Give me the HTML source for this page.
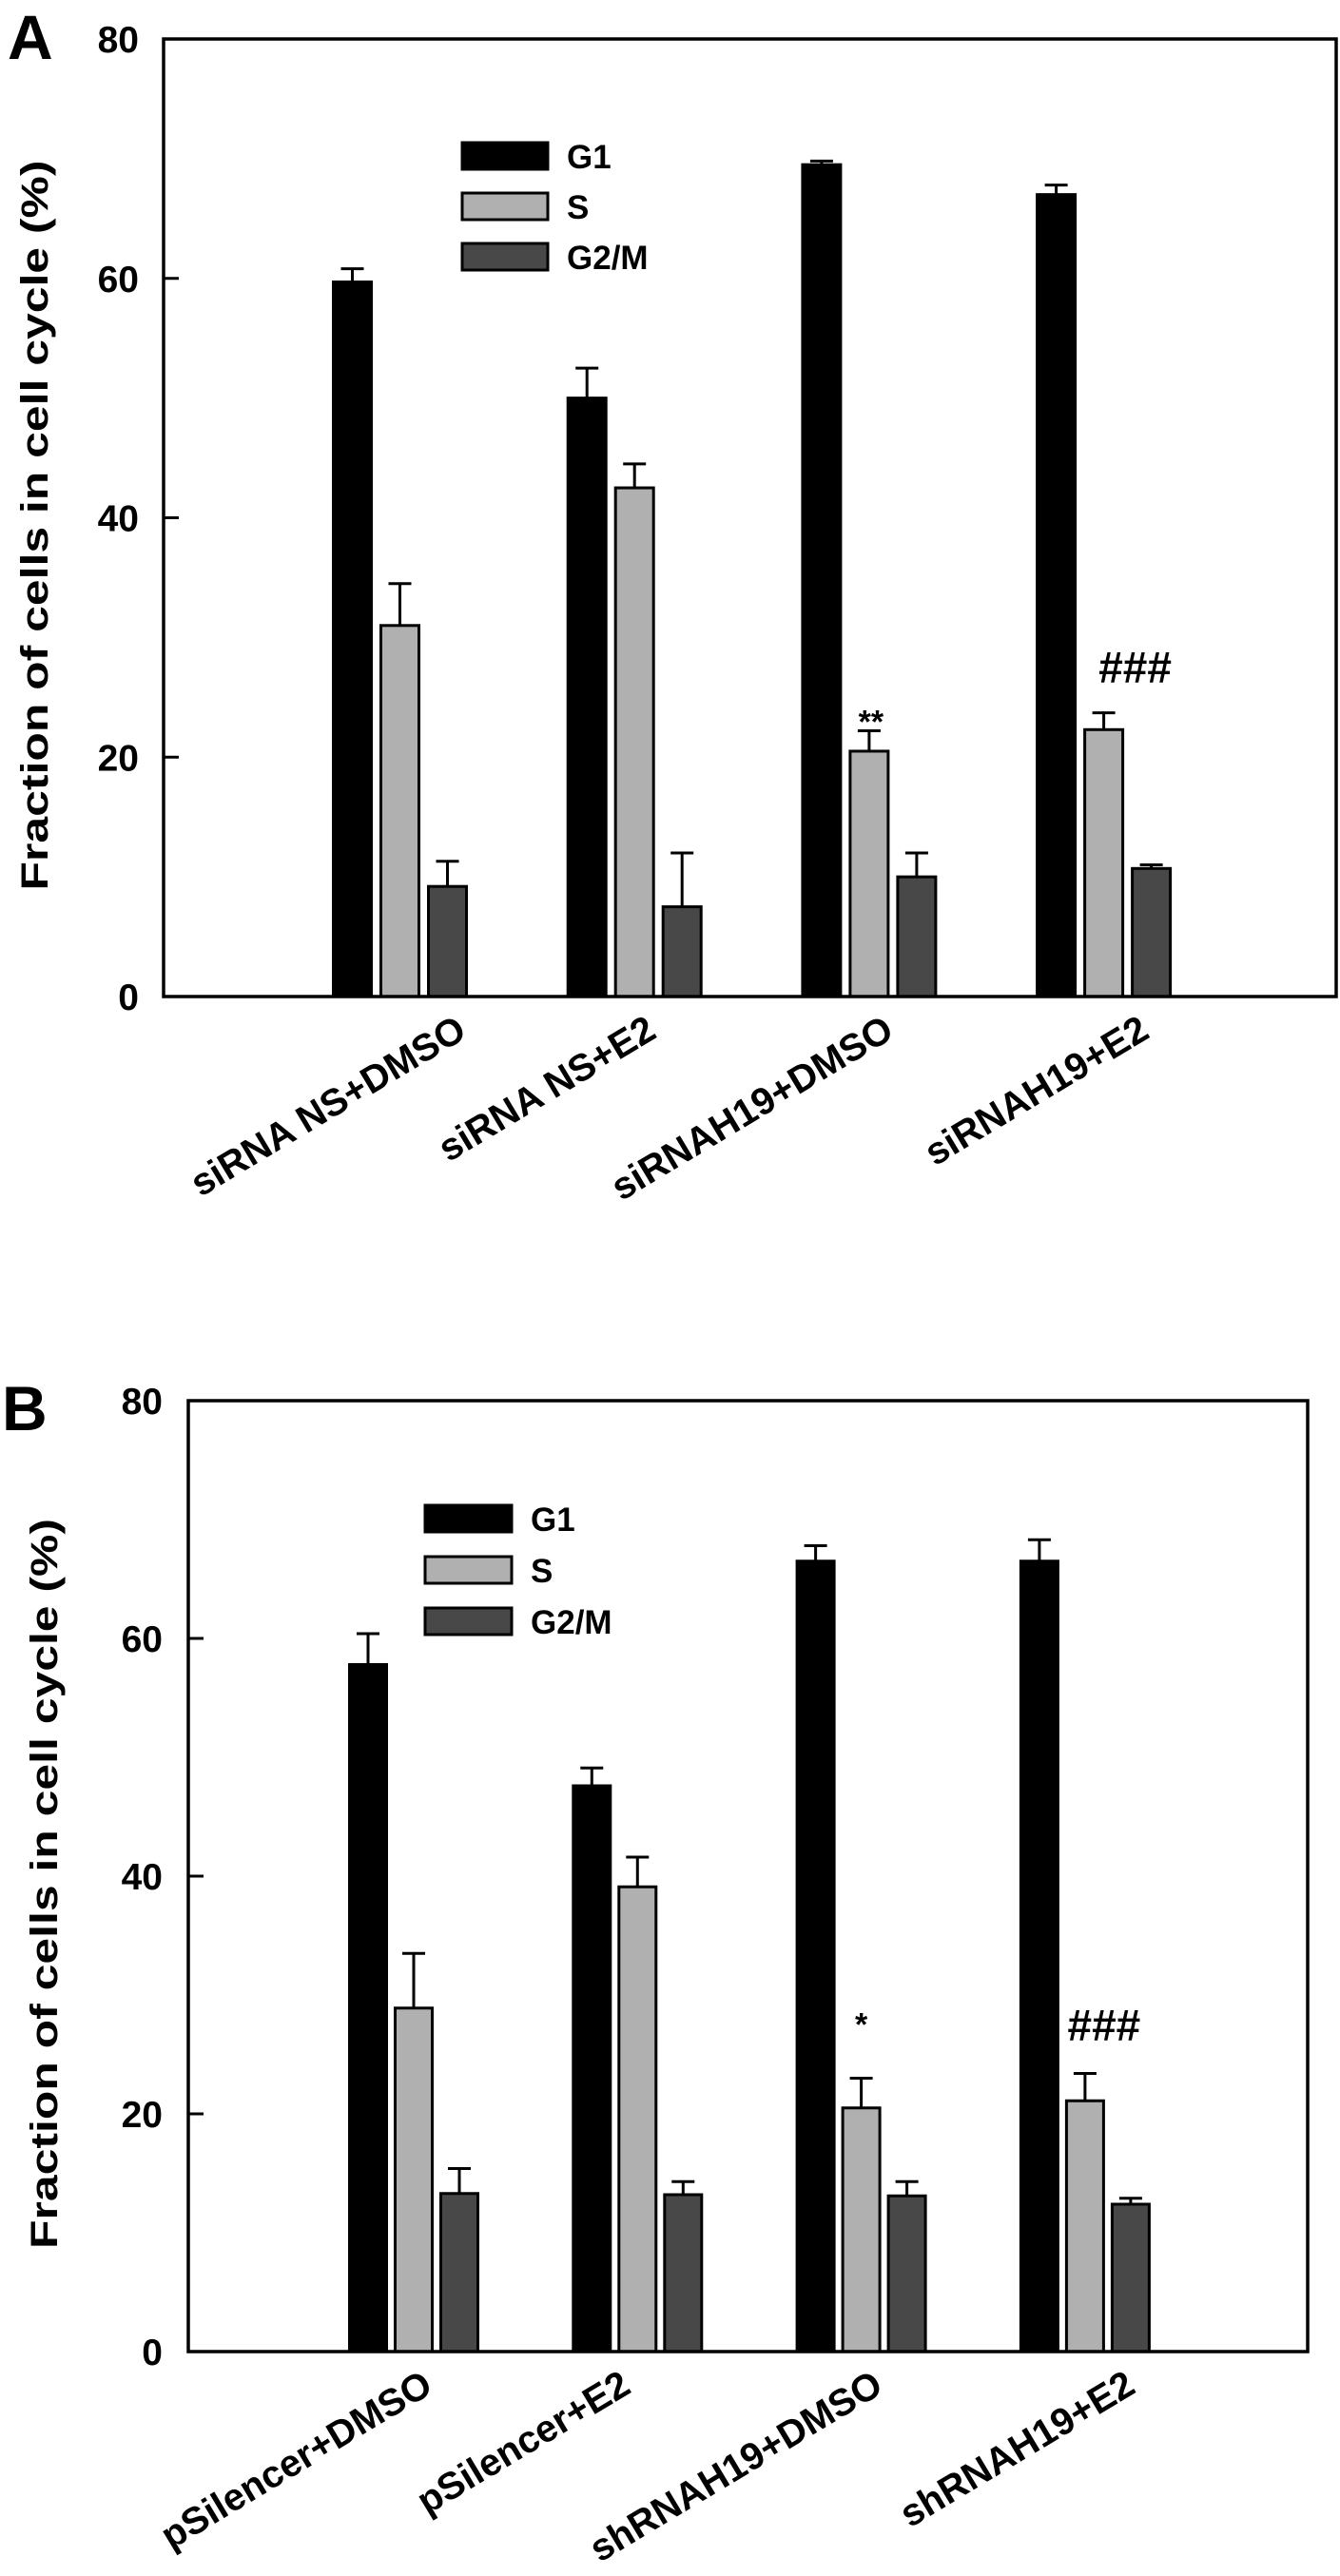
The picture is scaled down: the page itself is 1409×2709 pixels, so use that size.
<!DOCTYPE html>
<html><head><meta charset="utf-8"><style>
html,body{margin:0;padding:0;background:#fff;}
svg{display:block;font-family:"Liberation Sans",Arial,sans-serif;font-weight:bold;}
</style></head><body>
<svg id="fig" width="1409" height="2709" viewBox="0 0 1409 2709"></svg>
<script>
// ---- data ----
const seriesNames = ["G1","S","G2/M"];
const catsA = ["siRNA NS+DMSO","siRNA NS+E2","siRNAH19+DMSO","siRNAH19+E2"];
const g1A = [59.7, 50.0, 69.5, 67.0];
const sA = [31.0, 42.5, 20.5, 22.3];
const g2mA = [9.2, 7.5, 10.0, 10.7];
const g1ErrA = [1.1, 2.5, 0.3, 0.8];
const sErrA = [3.5, 2.0, 1.7, 1.4];
const g2mErrA = [2.1, 4.5, 2.0, 0.3];
const marksA = ["", "", "**", "###"];

const catsB = ["pSilencer+DMSO","pSilencer+E2","shRNAH19+DMSO","shRNAH19+E2"];
const g1B = [57.8, 47.6, 66.5, 66.5];
const sB = [28.9, 39.1, 20.5, 21.1];
const g2mB = [13.3, 13.2, 13.1, 12.4];
const g1ErrB = [2.6, 1.5, 1.3, 1.8];
const sErrB = [4.6, 2.5, 2.5, 2.3];
const g2mErrB = [2.1, 1.1, 1.2, 0.5];
const marksB = ["", "", "*", "###"];

const yTicks = [0, 20, 40, 60, 80];

const NS = "http://www.w3.org/2000/svg";
const svg = document.getElementById("fig");
function el(tag, attrs, parent){
  const e = document.createElementNS(NS, tag);
  for (const k in attrs) e.setAttribute(k, attrs[k]);
  (parent||svg).appendChild(e);
  return e;
}
const fills = ["#000000","#b0b0b0","#484848"];

function drawChart(cfg){
  const g = el("g", {});
  
  
  const y = v => cfg.bottom - (v/80)*(cfg.bottom - cfg.top);
  const vals = [cfg.g1, cfg.s, cfg.g2m];
  const errs = [cfg.g1e, cfg.se, cfg.g2me];
  const pl = el("text", {x: cfg.letterX, y: cfg.letterY, "font-size": 66}, g);
  pl.textContent = cfg.letter;
  
  
  yTicks.forEach(t => {
    const ty = y(t);
    if (t > 0 && t < 80) {
      const tk = el("line", {x1: cfg.left, x2: cfg.left+16, y1: ty, y2: ty, stroke:"#000","stroke-width":3}, g);
      
      
    }
    const tl = el("text", {x: cfg.tickX, y: ty+14, "font-size": 39, "text-anchor":"end"}, g);
    tl.textContent = t;
    
    
  });
  const cy = (cfg.top + cfg.bottom)/2 + 8;
  const yt = el("text", {x: 0, y: 0, "font-size": 40, "text-anchor":"middle",
    transform: `translate(${cfg.titleX},${cy}) rotate(-90)`, textLength: 768, lengthAdjust:"spacingAndGlyphs"}, g);
  yt.textContent = "Fraction of cells in cell cycle (%)";
  
  
  for (let i = 0; i < 4; i++) {
    const gx = cfg.firstX + i*cfg.groupStep;
    for (let s = 0; s < 3; s++) {
      const bx = gx + s*cfg.barStep;
      const v = vals[s][i], e = errs[s][i];
      const cx = bx + cfg.barW/2;
      const eb = el("line", {x1: cx, x2: cx, y1: y(v), y2: y(v+e), stroke:"#000","stroke-width":3}, g);
      
      
      const cap = el("line", {x1: cx-12, x2: cx+12, y1: y(v+e), y2: y(v+e), stroke:"#000","stroke-width":3}, g);
      
      
      const r = el("rect", {x: bx+1.5, y: y(v), width: cfg.barW-3, height: cfg.bottom - y(v), fill: fills[s], stroke:"#000","stroke-width":3}, g);
      
      
    }
    if (cfg.marks[i]) {
      const sx = gx + cfg.barStep + cfg.barW/2 + cfg.markDx[i];
      const sv = cfg.s[i] + cfg.se[i];
      const big = cfg.marks[i].startsWith("#");
      const m = el("text", {x: sx, y: y(sv) - cfg.markDy[i], "font-size": big ? 46 : 34, "text-anchor":"middle"}, g);
      m.textContent = cfg.marks[i];
      
      
    }
    const lx = gx + cfg.barStep + cfg.barW/2 + cfg.labelDx[i];
    const cl = el("text", {x: 0, y: 0, "font-size": 40, "text-anchor":"end",
      transform: `translate(${lx},${cfg.labelY}) rotate(-31)`}, g);
    cl.textContent = cfg.cats[i];
    
    
  }
  const fr = el("rect", {x: cfg.left, y: cfg.top, width: cfg.right-cfg.left, height: cfg.bottom-cfg.top, fill:"none", stroke:"#000","stroke-width":3.5}, g);
  
  
  for (let s = 0; s < 3; s++) {
    const ly = cfg.legY + s*cfg.legStep;
    const lr = el("rect", {x: cfg.legX, y: ly, width: cfg.legW, height: 28, fill: fills[s], stroke:"#000","stroke-width":3}, g);
    
    
    const lt = el("text", {x: cfg.legX + cfg.legW + 20, y: ly + 27, "font-size": 35}, g);
    lt.textContent = seriesNames[s];
    
    
  }
}

drawChart({id:"a", letter:"A", letterX:8, letterY:62, left:172, right:1405, top:41, bottom:1048,
  tickX:146, titleX:50, firstX:349, groupStep:246.7, barStep:50, barW:43,
  g1:g1A, s:sA, g2m:g2mA, g1e:g1ErrA, se:sErrA, g2me:g2mErrA, marks:marksA, cats:catsA,
  markDx:[0,0,2,33], markDy:[0,0,-2,32],
  labelDx:[72, 25, 28, 50], labelY:1090,
  legX:486, legW:90, legY:150, legStep:53});

drawChart({id:"b", letter:"B", letterX:2, letterY:1504, left:198, right:1375, top:1473, bottom:2473,
  tickX:171, titleX:60, firstX:366, groupStep:235.3, barStep:48, barW:42,
  g1:g1B, s:sB, g2m:g2mB, g1e:g1ErrB, se:sErrB, g2me:g2mErrB, marks:marksB, cats:catsB,
  markDx:[0,0,0,20], markDy:[0,0,45,35],
  labelDx:[22, -5, 25, 55], labelY:2515,
  legX:447, legW:91, legY:1583, legStep:54});
</script>
</body></html>
